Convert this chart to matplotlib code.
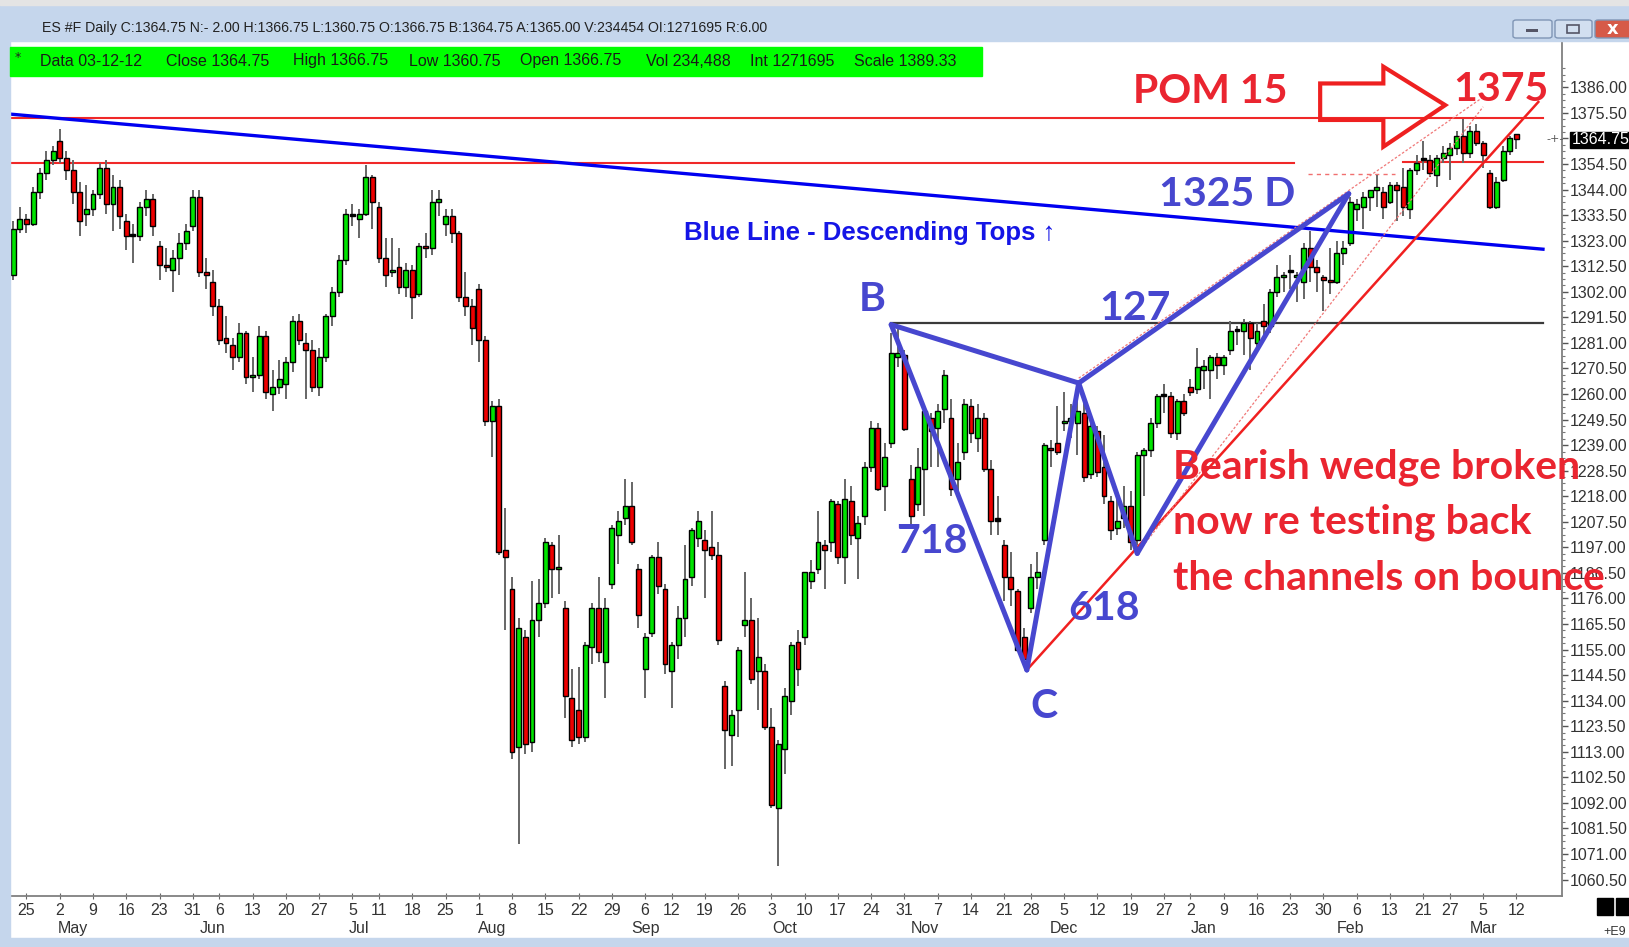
import numpy as np
import pandas as pd
import matplotlib
matplotlib.use("Agg")
import matplotlib.pyplot as plt
from matplotlib.patches import Rectangle, Polygon, FancyBboxPatch

W, H = 1629, 947

# ---- data: ES #F daily bars, 20 Apr 2011 .. 12 Mar 2012 ----
holidays = ["2011-04-22", "2011-05-30", "2011-07-04", "2011-09-05",
            "2011-11-24", "2011-12-26", "2012-02-20"]
dates = pd.bdate_range("2011-04-20", "2012-03-12")
dates = dates[~dates.isin(pd.to_datetime(holidays))]

opens = [1309, 1328, 1332, 1330, 1343, 1351, 1356,
         1364, 1357, 1352, 1343, 1334, 1336, 1342, 1353, 1338, 1345, 1331, 1325, 1325, 1337, 1340, 1321, 1313, 1311, 1316, 1322, 1329,
         1341, 1310, 1306, 1296, 1283, 1280, 1275, 1285, 1267, 1268, 1284, 1260, 1263, 1264, 1273, 1290, 1281, 1278, 1263, 1275, 1292, 1302,
         1315, 1333, 1332, 1334, 1349, 1337, 1316, 1310, 1312, 1304, 1311, 1301, 1321, 1320, 1339, 1330, 1333, 1326, 1300, 1296,
         1303, 1282, 1249, 1255, 1196, 1180, 1115, 1160, 1117, 1167, 1174, 1198, 1188, 1172, 1135, 1130, 1119, 1156, 1172, 1150, 1182, 1202, 1209,
         1214, 1188, 1147, 1162, 1193, 1180, 1146, 1157, 1168, 1185, 1201, 1200, 1197, 1194, 1140, 1120, 1130, 1165, 1167, 1146, 1146,
         1123, 1090, 1114, 1134, 1158, 1160, 1183, 1188, 1198, 1199, 1215, 1193, 1216, 1201, 1210, 1230, 1246, 1222, 1240, 1275, 1276,
         1225, 1215, 1229, 1250, 1246, 1254, 1250, 1225, 1236, 1255, 1242, 1250, 1229, 1208, 1198, 1185, 1179, 1160, 1172, 1185, 1200,
         1238, 1240, 1248, 1249, 1248, 1252, 1227, 1245, 1230, 1216, 1205, 1209, 1214, 1200, 1235, 1237, 1248, 1259, 1259, 1244, 1257,
         1263, 1262, 1270, 1270, 1275, 1272, 1278, 1286, 1286, 1289, 1281, 1290, 1288, 1302, 1308, 1310, 1308, 1306, 1320, 1312, 1308, 1307,
         1306, 1318, 1322, 1336, 1337, 1341, 1344, 1343, 1339, 1346, 1345, 1336, 1352, 1356, 1356, 1350, 1357, 1358, 1361, 1366,
         1359, 1368, 1363, 1351, 1337, 1348, 1360, 1366.75]
highs = [1331, 1337, 1334, 1345, 1353, 1360, 1362,
         1369, 1360, 1356, 1347, 1346, 1344, 1355, 1356, 1350, 1348, 1334, 1330, 1339, 1344, 1342, 1323, 1320, 1319, 1326, 1330, 1344,
         1344, 1316, 1311, 1299, 1292, 1283, 1289, 1286, 1275, 1288, 1286, 1270, 1274, 1275, 1292, 1293, 1285, 1282, 1279, 1293, 1304, 1317,
         1336, 1338, 1336, 1354, 1350, 1339, 1324, 1324, 1320, 1314, 1313, 1322, 1326, 1344, 1344, 1336, 1336, 1327, 1310, 1299,
         1305, 1284, 1257, 1258, 1213, 1185, 1168, 1163, 1183, 1184, 1201, 1199, 1202, 1175, 1147, 1148, 1158, 1174, 1185, 1176, 1206, 1212, 1225,
         1224, 1190, 1162, 1194, 1199, 1182, 1158, 1173, 1198, 1205, 1212, 1204, 1212, 1199, 1142, 1130, 1156, 1187, 1176, 1168, 1149,
         1131, 1118, 1139, 1158, 1163, 1187, 1192, 1212, 1200, 1217, 1216, 1225, 1222, 1210, 1232, 1249, 1248, 1240, 1285, 1288, 1278,
         1231, 1238, 1256, 1252, 1256, 1270, 1258, 1240, 1258, 1258, 1256, 1252, 1233, 1218, 1200, 1195, 1180, 1164, 1190, 1195, 1240,
         1241, 1255, 1261, 1256, 1260, 1258, 1251, 1247, 1243, 1218, 1220, 1222, 1220, 1236, 1238, 1250, 1260, 1264, 1261, 1258, 1260,
         1266, 1279, 1274, 1276, 1277, 1276, 1290, 1288, 1291, 1290, 1289, 1297, 1303, 1313, 1310, 1317, 1310, 1322, 1327, 1315, 1309, 1320,
         1323, 1323, 1341, 1340, 1343, 1344, 1350, 1345, 1347, 1347, 1353, 1353, 1358, 1364, 1358, 1358, 1362, 1363, 1368, 1373,
         1370, 1371, 1364, 1352, 1349, 1362, 1366, 1366.75]
lows = [1307, 1326, 1326, 1329, 1340, 1348, 1354,
        1355, 1348, 1338, 1325, 1329, 1333, 1340, 1334, 1327, 1328, 1319, 1314, 1323, 1333, 1325, 1307, 1310, 1302, 1309, 1319, 1327,
        1308, 1303, 1292, 1280, 1277, 1270, 1273, 1264, 1261, 1266, 1258, 1253, 1260, 1258, 1269, 1280, 1258, 1261, 1259, 1273, 1288, 1300,
        1313, 1329, 1324, 1333, 1328, 1314, 1304, 1308, 1301, 1300, 1291, 1300, 1316, 1317, 1333, 1325, 1322, 1298, 1292, 1280,
        1273, 1247, 1234, 1194, 1163, 1110, 1075, 1112, 1113, 1160, 1172, 1176, 1178, 1127, 1115, 1116, 1117, 1149, 1150, 1135, 1180, 1190, 1206,
        1198, 1164, 1135, 1160, 1178, 1145, 1131, 1151, 1160, 1181, 1197, 1176, 1192, 1157, 1106, 1107, 1119, 1160, 1141, 1130, 1122,
        1090, 1066, 1104, 1128, 1140, 1157, 1180, 1186, 1180, 1195, 1190, 1182, 1198, 1184, 1206, 1228, 1220, 1212, 1238, 1271, 1245,
        1205, 1212, 1210, 1230, 1230, 1248, 1218, 1220, 1233, 1240, 1236, 1228, 1202, 1202, 1175, 1173, 1154, 1148, 1170, 1180, 1198,
        1230, 1235, 1245, 1242, 1235, 1224, 1225, 1226, 1215, 1200, 1202, 1205, 1196, 1198, 1218, 1234, 1246, 1252, 1242, 1241, 1251,
        1259, 1260, 1262, 1258, 1266, 1268, 1276, 1280, 1276, 1270, 1279, 1283, 1285, 1300, 1302, 1303, 1298, 1299, 1306, 1302, 1294, 1301,
        1305, 1313, 1321, 1331, 1328, 1335, 1337, 1332, 1338, 1331, 1333, 1332, 1350, 1352, 1349, 1345, 1355, 1348, 1358, 1355,
        1357, 1362, 1353, 1336, 1336, 1347, 1358, 1360.75]
closes = [1328, 1332, 1330, 1343, 1351, 1356, 1360,
          1357, 1352, 1343, 1331, 1336, 1342, 1353, 1338, 1345, 1333, 1325, 1325, 1337, 1340, 1329, 1313, 1312, 1316, 1322, 1327, 1341,
          1310, 1309, 1296, 1282, 1281, 1275, 1285, 1267, 1268, 1284, 1261, 1263, 1266, 1273, 1290, 1282, 1278, 1263, 1275, 1292, 1302, 1315,
          1334, 1333.5, 1334, 1349, 1339, 1316, 1309, 1311, 1304, 1311, 1300, 1321, 1320, 1339, 1340, 1333, 1326, 1300, 1296, 1287,
          1282, 1249, 1255, 1195, 1193, 1113, 1164, 1116, 1167, 1174, 1199, 1188, 1189, 1136, 1118, 1119, 1157, 1172, 1154, 1172, 1205, 1208, 1214,
          1199, 1169, 1160, 1193, 1181, 1149, 1157, 1168, 1184, 1204, 1208, 1196, 1194, 1159, 1122, 1128, 1155, 1167, 1143, 1152, 1123,
          1091, 1116, 1136, 1157, 1147, 1187, 1187, 1199, 1196, 1216, 1193, 1217, 1202, 1207, 1230, 1246, 1221, 1234, 1277, 1277, 1245.5,
          1210, 1230, 1253, 1245, 1253, 1268, 1221, 1232, 1256, 1244, 1250, 1229, 1208, 1208.5, 1185, 1180, 1155, 1151, 1185, 1187, 1239,
          1237, 1236, 1249, 1250, 1253, 1226, 1247, 1228, 1218, 1204, 1208, 1214, 1199, 1235, 1237, 1248, 1259, 1259.5, 1244, 1257, 1252,
          1261, 1271, 1271.5, 1275, 1272, 1275, 1286, 1286.5, 1289, 1283, 1286, 1288, 1302, 1308, 1309, 1310.5, 1309, 1320, 1312, 1310, 1307, 1306,
          1318, 1320, 1339, 1338, 1341, 1344, 1345, 1337, 1346, 1344, 1337, 1352, 1355, 1356.5, 1351, 1357, 1359, 1361, 1366, 1359,
          1368, 1363, 1358, 1337, 1347, 1360, 1365, 1364.75]

month_names = ["May", "Jun", "Jul", "Aug", "Sep", "Oct", "Nov", "Dec", "Jan", "Feb", "Mar"]
price_ticks = np.arange(1060.5, 1386.5, 10.5)

# pattern points (bar index, price)
pat_B = (132.0, 1288.5)
pat_C = (152.4, 1146.6)
pat_X = (160.2, 1264.5)
pat_Y = (169.0, 1194.5)
pat_D = (200.8, 1342.3)

header = ("ES #F Daily C:1364.75 N:- 2.00 H:1366.75 L:1360.75 O:1366.75 "
          "B:1364.75 A:1365.00 V:234454 OI:1271695 R:6.00")
bar_fields = ["Data 03-12-12", "Close 1364.75", "High 1366.75", "Low 1360.75",
              "Open 1366.75", "Vol 234,488", "Int 1271695", "Scale 1389.33"]
bar_field_x = [39.5, 166, 293, 409, 519.5, 646, 750, 854]

# ---- figure ----
def fx(px):
    return px / W

def fy(py):
    return 1 - py / H

NARROW = ["Liberation Sans Narrow", "Liberation Sans", "DejaVu Sans"]
BIG = ["Lato", "DejaVu Sans"]
RED_TXT = "#ea2530"
PAT = "#4747cf"

fig = plt.figure(figsize=(W / 100, H / 100), dpi=100)
fig.patch.set_facecolor("white")

# window chrome
chrome = "#c5d6ec"
fig.patches.append(Rectangle((0, fy(41.5)), 1, 36.5 / H, transform=fig.transFigure, color=chrome, zorder=0))
fig.patches.append(Rectangle((0, fy(5)), 1, 5 / H, transform=fig.transFigure, color="#e4e4e4", zorder=0))
fig.patches.append(Rectangle((0, 0), fx(9.5), fy(41.5), transform=fig.transFigure, color=chrome, zorder=0))
fig.patches.append(Rectangle((0, 0), 1, 9 / H, transform=fig.transFigure, color=chrome, zorder=0))
fig.text(fx(42), fy(28), header, fontsize=10.2, family=NARROW, color="#222222", va="center")
for x0, x1, fc in [(1513, 1552, "#d2dff0"), (1555, 1592, "#d2dff0"), (1595, 1632, "#d65a48")]:
    fig.patches.append(FancyBboxPatch((fx(x0), fy(38)), fx(x1 - x0), 18 / H, transform=fig.transFigure,
                                      boxstyle="round,pad=0,rounding_size=0.002", fc=fc, ec="#7f95b5", lw=1))
fig.patches.append(Rectangle((fx(1526), fy(32)), fx(12), 3 / H, transform=fig.transFigure, fc="#556"))
fig.patches.append(Rectangle((fx(1567), fy(33)), fx(12), 8 / H, transform=fig.transFigure, fc="none", ec="#556", lw=1.2))
fig.text(fx(1613), fy(29), "x", fontsize=13, weight="bold", color="white", ha="center", va="center")

ax = fig.add_axes([fx(10.4), fy(895.6), fx(1561.6 - 10.4), (895.6 - 41.6) / H])
ax.set_xlim(-0.42, 232.8)
ax.set_ylim(1053.9, 1404.8)

# green info strip
fig.patches.append(Rectangle((fx(10.4), fy(75.8)), fx(982 - 10.4), 29 / H, transform=fig.transFigure,
                             color="#00ff00", zorder=5))
fig.text(fx(15), fy(58), "*", fontsize=9, color="#222222", va="center", zorder=6)
for lab, px in zip(bar_fields, bar_field_x):
    fig.text(fx(px), fy(61), lab, fontsize=11.5, family=NARROW, color="#1a1a1a", va="center", zorder=6)

# candles
o = np.array(opens, float)
h = np.array(highs, float)
l = np.array(lows, float)
c = np.array(closes, float)
xi = np.arange(len(dates))
ax.vlines(xi, l, h, color="#666666", lw=1.4, zorder=2)
body = np.abs(c - o)
cols = np.where(c > o, "#00e400", "#ee0000")
cols = np.where(body < 1.0, "black", cols)
ax.bar(xi, np.maximum(body, 0.9), bottom=np.minimum(o, c), width=0.74, color=cols,
       edgecolor="black", linewidth=1.0, zorder=3)

# horizontal reference lines
ax.plot([-0.42, 230], [1373.6, 1373.6], color="#f02828", lw=1.5, zorder=1.5)
ax.plot([-0.42, 192.5], [1355.0, 1355.0], color="#f02828", lw=1.5, zorder=1.5)
ax.plot([209, 230], [1355.3, 1355.3], color="#f02828", lw=1.5, zorder=1.5)
ax.plot([194.7, 207.8], [1350.4, 1350.4], color="#f07070", lw=1.0, ls=(0, (3, 3)), zorder=1.5)
ax.plot([pat_B[0], 230], [1289, 1289], color="#3a3a3a", lw=1.6, zorder=1.5)

# blue descending tops line
ax.plot([-0.42, 230], [1375.0, 1319.5], color="#0000f0", lw=2.4, zorder=4)

# red channel lines
ax.plot([pat_C[0], 229.3], [pat_C[1], 1380], color="#f02020", lw=1.8, zorder=4)
ax.plot([pat_Y[0], 221], [pat_Y[1], 1378], color="#f07878", lw=0.9, ls=(0, (2, 1.5)), zorder=4)
ax.plot([pat_X[0], 221], [pat_X[1] + 2, 1382], color="#f07878", lw=0.9, ls=(0, (2, 1.5)), zorder=4)

# harmonic pattern legs
for p, q in [(pat_B, pat_C), (pat_C, pat_X), (pat_B, pat_X), (pat_X, pat_Y), (pat_Y, pat_D), (pat_X, pat_D)]:
    ax.plot([p[0], q[0]], [p[1], q[1]], color=PAT, lw=3.6, solid_capstyle="round", zorder=5)

# hollow arrow
arrow = Polygon([(196.5, 1387.6), (206, 1387.6), (206, 1394.5), (215.3, 1378.7),
                 (206, 1361.6), (206, 1372.6), (196.5, 1372.6)], closed=True,
                fill=False, ec="#ee2020", lw=3, zorder=6)
ax.add_patch(arrow)

# annotation texts
big = dict(family=BIG, weight="bold", fontsize=29.5, va="center", ha="left", zorder=10, clip_on=False)
ax.text(168.3, 1384.3, "POM 15", color=RED_TXT, **big)
ax.text(216.5, 1385.1, "1375", color=RED_TXT, **big)
ax.text(172.2, 1342.0, "1325 D", color=PAT, **big)
ax.text(163.3, 1295.1, "127", color=PAT, **big)
ax.text(132.7, 1199.5, "718", color=PAT, **big)
ax.text(158.6, 1171.7, "618", color=PAT, **big)
ax.text(153.0, 1131.6, "C", color=PAT, **big)
ax.text(127.1, 1298.9, "B", color=PAT, **big)
ax.text(174.3, 1229.8, "Bearish wedge broken", color=RED_TXT, **big)
ax.text(174.3, 1207.2, "now re testing back", color=RED_TXT, **big)
ax.text(174.3, 1184.1, "the channels on bounce", color=RED_TXT, **big)
ax.text(100.8, 1326.2, "Blue Line - Descending Tops \u2191", color="#1515e6",
        family=["Liberation Sans", "DejaVu Sans"], weight="bold", fontsize=18.5, va="center", zorder=10)

# axes styling
for s in ["left", "top"]:
    ax.spines[s].set_visible(False)
for s in ["right", "bottom"]:
    ax.spines[s].set_color("#808080")
    ax.spines[s].set_linewidth(1.3)

ax.yaxis.tick_right()
ax.set_yticks(price_ticks, [f"{v:.2f}" for v in price_ticks])
ax.set_yticks(np.arange(1060.5, 1395, 2.625), minor=True)
ax.tick_params(axis="y", which="major", length=4, width=1, colors="#555555", pad=2,
               labelsize=11.5, labelcolor="#333333")
ax.tick_params(axis="y", which="minor", length=2, width=0.8, colors="#777777")
for t in ax.get_yticklabels():
    t.set_family(NARROW)

week_pos = [i for i in range(1, len(dates)) if dates[i].weekday() < dates[i - 1].weekday()]
ax.set_xticks(week_pos, [str(dates[i].day) for i in week_pos])
ax.tick_params(axis="x", length=5, direction="inout", colors="#666666", pad=3,
               labelsize=11.5, labelcolor="#333333")
for t in ax.get_xticklabels():
    t.set_family(NARROW)

month_pos = [i for i in range(1, len(dates)) if dates[i].month != dates[i - 1].month]
for name, i in zip(month_names, month_pos):
    ax.text(i + 2, -0.038, name, transform=ax.get_xaxis_transform(), ha="center", va="center",
            fontsize=11.5, family=NARROW, color="#333333", clip_on=False)

# last-price box on price scale
fig.patches.append(Rectangle((fx(1570), fy(148)), fx(60), 16 / H, transform=fig.transFigure,
                             color="black", zorder=8))
fig.text(fx(1572), fy(140), "1364.75", fontsize=11.5, family=NARROW, color="white", va="center", zorder=9)
fig.text(fx(1546), fy(139), "-+-", fontsize=8, color="#555555", va="center")

# scale corner
fig.patches.append(Rectangle((fx(1597), fy(915)), fx(16), 17 / H, transform=fig.transFigure, color="black"))
fig.patches.append(Rectangle((fx(1616), fy(915)), fx(16), 17 / H, transform=fig.transFigure, color="black"))
fig.text(fx(1603), fy(932), "+E9", fontsize=9, family=NARROW, color="#333333", va="center")

fig.savefig("out.png", dpi=100)
